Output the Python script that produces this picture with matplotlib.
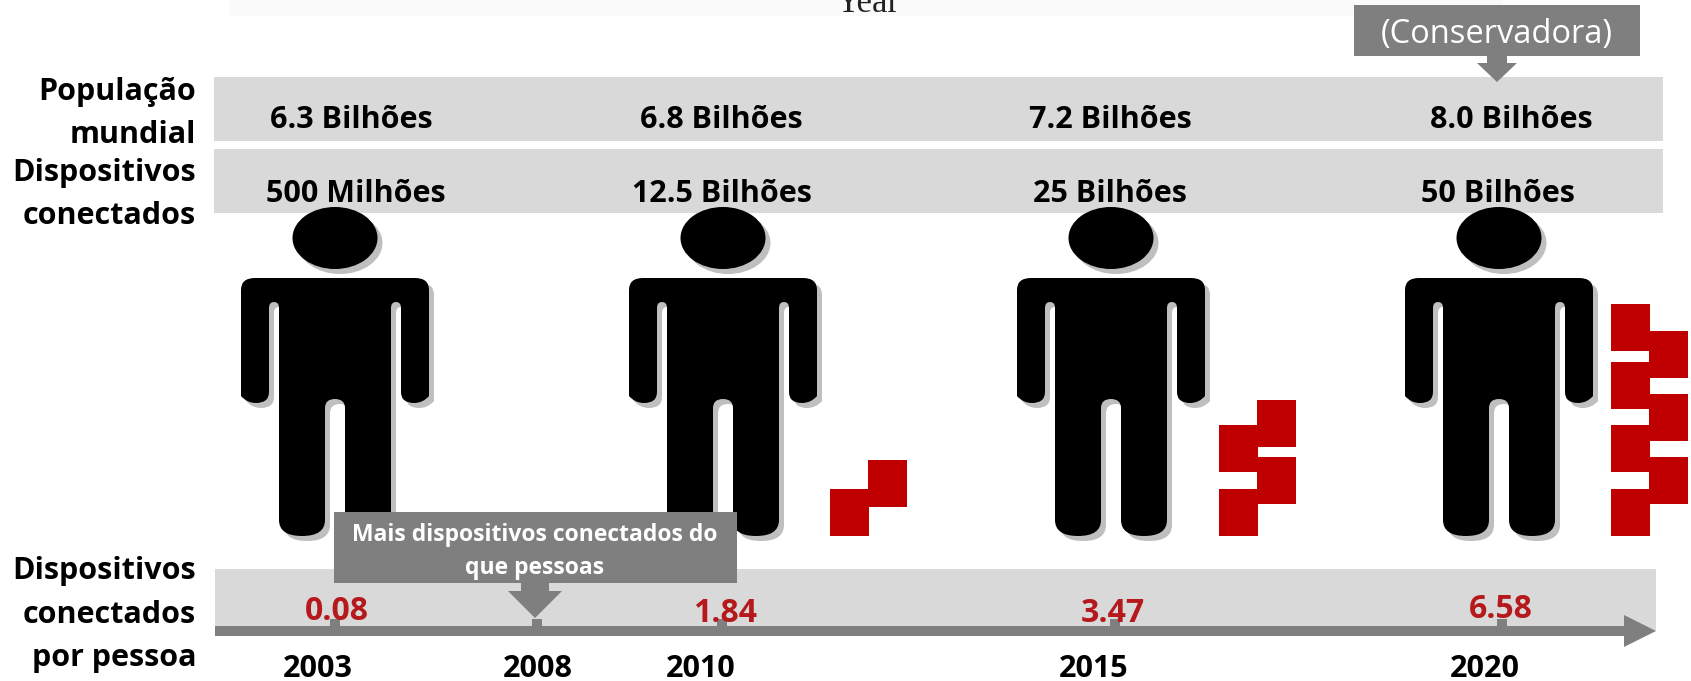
import matplotlib
matplotlib.use('Agg')
import matplotlib.pyplot as plt
from matplotlib.patches import Rectangle, Ellipse, Polygon, PathPatch
from matplotlib.path import Path

plt.rcParams['font.family'] = ['Open Sans', 'DejaVu Sans']

# data
years = ['2003', '2008', '2010', '2015', '2020']
population = ['6.3 Bilhões', '6.8 Bilhões', '7.2 Bilhões', '8.0 Bilhões']
devices = ['500 Milhões', '12.5 Bilhões', '25 Bilhões', '50 Bilhões']
per_person = ['0.08', '1.84', '3.47', '6.58']
red_blocks = [0, 2, 4, 7]

# layout, in pixels of the picture
person_x = [335, 723, 1111, 1499]
pop_x = [351, 721, 1110, 1511]
dev_x = [356, 722, 1110, 1498]
ratio_x = [337, 725, 1113, 1501]
ratio_y = [611, 613, 613, 610]
tick_x = [335, 537, 722, 1115, 1502]
year_x = [318, 538, 701, 1094, 1485]
block_x = [None, 830, 1219, 1611]
block_tops = [None,
              [489, 460],
              [489, 457, 425, 400],
              [489, 457, 425, 394, 362, 331, 304]]

GREY = '#D9D9D9'
DARK = '#7F7F7F'
RED = '#C00000'

fig = plt.figure(figsize=(16.91, 6.81), dpi=100)
ax = fig.add_axes([0, 0, 1, 1])
ax.set_xlim(0, 1691)
ax.set_ylim(681, 0)
ax.axis('off')


def rect(x0, y0, x1, y1, color, z=1):
    ax.add_patch(Rectangle((x0, y0), x1 - x0, y1 - y0, fc=color, ec='none', zorder=z))


def person_path(cx):
    # half outline then mirrored, relative to centre
    M, L, Q = Path.MOVETO, Path.LINETO, Path.CURVE3
    half = [
        (0, 278, M), (80, 278, L), (94, 278, Q), (94, 290, Q), (94, 396, L),
        (88, 403, Q), (79, 403, Q), (66, 403, Q), (66, 392, Q),
        (66, 308, L), (66, 302, Q), (61, 302, Q), (56, 302, Q), (56, 308, Q),
        (56, 520, L), (56, 536, Q), (33, 536, Q), (10, 536, Q), (10, 520, Q),
        (10, 408, L), (10, 399, Q), (0, 399, Q),
    ]
    verts = [(cx + p[0], p[1]) for p in half]
    codes = [p[2] for p in half]
    rev = half[::-1]
    for i in range(1, len(rev)):
        verts.append((cx - rev[i][0], rev[i][1]))
        # curve segments keep their code when walked backwards
        codes.append(rev[i - 1][2] if rev[i - 1][2] != M else L)
    verts.append(verts[0])
    codes.append(Path.CLOSEPOLY)
    return Path(verts, codes)


def draw_person(cx):
    for dx, col, z in [(5, '#BFBFBF', 3), (0, 'black', 4)]:
        ax.add_patch(PathPatch(person_path(cx + dx).transformed(
            matplotlib.transforms.Affine2D().translate(0, dx)), fc=col, ec='none', zorder=z, lw=0))
        ax.add_patch(Ellipse((cx + dx, 238 + dx), 85, 62, fc=col, ec='none', zorder=z))


def draw_blocks(x0, tops, n):
    # stack from the bottom up, left and right column in turn
    for i in range(n):
        col = x0 if i % 2 == 0 else x0 + 38
        rect(col, tops[i], col + 39, tops[i] + 47, RED, 5)


# top strip with the cut off word
rect(229, 0, 1503, 16, '#FAFAFA')
ax.text(868, 12, 'Year', family='Liberation Serif', fontsize=25, ha='center', va='baseline', color='#222222')

# bands
rect(214, 77, 1663, 141, GREY)
rect(214, 149, 1663, 213, GREY)
rect(215, 569, 1656, 631, GREY)

# row labels
for txt, y in [('População', 92), ('mundial', 135), ('Dispositivos', 173), ('conectados', 216),
               ('Dispositivos', 571), ('conectados', 615), ('por pessoa', 658)]:
    ax.text(196, y, txt, fontsize=22, fontweight='bold', ha='right', va='center', color='black', zorder=6)

for x, p in zip(pop_x, population):
    ax.text(x, 120, p, fontsize=22, fontweight='bold', ha='center', va='center', zorder=6)
for x, d in zip(dev_x, devices):
    ax.text(x, 194, d, fontsize=22, fontweight='bold', ha='center', va='center', zorder=6)

for cx in person_x:
    draw_person(cx)
for x0, tops, n in zip(block_x, block_tops, red_blocks):
    if n:
        draw_blocks(x0, tops, n)

# time line
rect(215, 626, 1624, 636, DARK, 7)
ax.add_patch(Polygon([(1624, 615), (1656, 631), (1624, 647)], fc=DARK, ec='none', zorder=7))
for x in tick_x:
    rect(x - 5, 619, x + 5, 627, DARK, 7)
for x, y, v in zip(ratio_x, ratio_y, per_person):
    ax.text(x, y, v, fontsize=23, fontweight='bold', color='#B5191C', ha='center', va='center', zorder=8)
for x, y in zip(year_x, years):
    ax.text(x, 669, y, fontsize=22, fontweight='bold', ha='center', va='center', zorder=8)

# callouts
rect(334, 512, 737, 583, DARK, 9)
ax.add_patch(Polygon([(521, 583), (549, 583), (549, 591), (562, 591), (535, 618), (508, 591), (521, 591)],
                     fc=DARK, ec='none', zorder=9))
ax.text(535, 535, 'Mais dispositivos conectados do', fontsize=16.5, fontweight='bold', color='white',
        ha='center', va='center', zorder=10)
ax.text(535, 568, 'que pessoas', fontsize=16.5, fontweight='bold', color='white', ha='center', va='center', zorder=10)

rect(1354, 5, 1640, 56, DARK, 9)
ax.add_patch(Polygon([(1487, 56), (1507, 56), (1507, 63), (1517, 63), (1497, 82), (1477, 63), (1487, 63)],
                     fc=DARK, ec='none', zorder=9))
ax.text(1497, 35, '(Conservadora)', fontsize=23.5, color='white', ha='center', va='center', zorder=10)

fig.savefig('out.png', dpi=100)
